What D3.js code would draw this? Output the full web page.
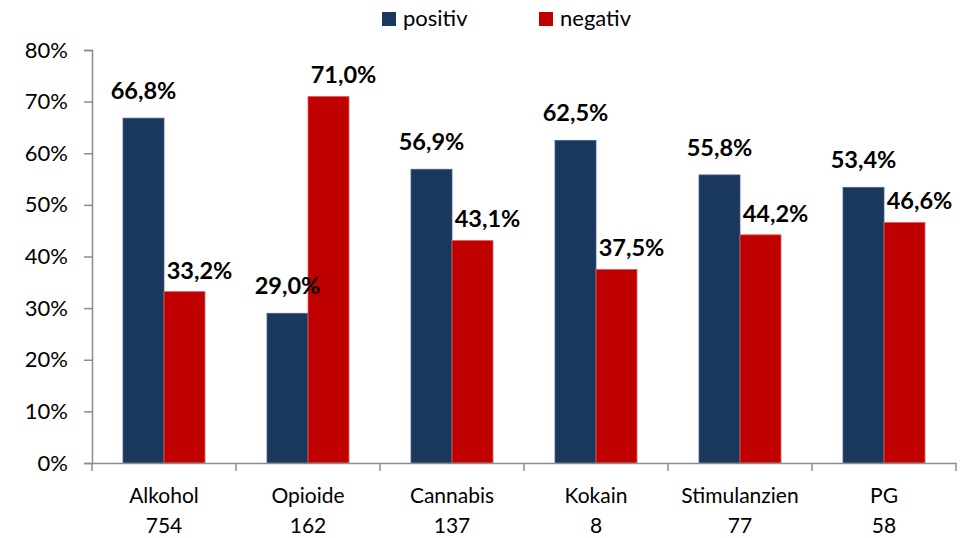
<!DOCTYPE html>
<html>
<head>
<meta charset="utf-8">
<script src="https://cdn.jsdelivr.net/npm/d3@7"></script>
<style>
  body { margin: 0; background: #fff; }
  svg text { font-family: Lato, "Open Sans", sans-serif; fill: #000; }
</style>
</head>
<body>
<div id="graph"></div>
<script>
'use strict';

const categories = ['Alkohol', 'Opioide', 'Cannabis', 'Kokain', 'Stimulanzien', 'PG'];
const counts = ['754', '162', '137', '8', '77', '58'];
const positiv = [66.8, 29.0, 56.9, 62.5, 55.8, 53.4];
const negativ = [33.2, 71.0, 43.1, 37.5, 44.2, 46.6];
const yTicks = [0, 10, 20, 30, 40, 50, 60, 70, 80];
const seriesNames = ['positiv', 'negativ'];

const colors = { positiv: '#1A375E', negativ: '#C00000' };
const strokes = { positiv: '#4A6185', negativ: '#E06060' };

let svgContainer = d3.select('#graph')
  .append('svg')
  .attr('width', 969)
  .attr('height', 538);

let xScale = d3.scaleBand()
  .domain(categories)
  .range([92, 956]);

let xInner = d3.scaleBand()
  .domain(seriesNames)
  .range([0, 82]);

let yScale = d3.scaleLinear()
  .domain([0, 80])
  .range([463, 50]);

// y axis
let yAxis = d3.axisLeft(yScale)
  .tickValues(yTicks)
  .tickSize(8)
  .tickPadding(16)
  .tickFormat(d => d + '%');
let gy = svgContainer.append('g')
  .attr('transform', 'translate(92, 0)')
  .call(yAxis);
gy.select('.domain').attr('stroke', '#8c8c8c').attr('stroke-width', 1.5);
gy.selectAll('.tick line').attr('stroke', '#8c8c8c').attr('stroke-width', 1.5);
gy.selectAll('.tick text').style('font-size', '22px').attr('fill', '#000');

// bars
let rows = categories.map((c, i) => ({ cat: c, positiv: positiv[i], negativ: negativ[i] }));
let groups = svgContainer.selectAll('.grp')
  .data(rows)
  .enter()
  .append('g')
  .attr('transform', d => `translate(${xScale(d.cat) + (xScale.bandwidth() - 82) / 2}, 0)`);

groups.selectAll('rect')
  .data(d => seriesNames.map(k => ({ key: k, value: d[k] })))
  .enter()
  .append('rect')
  .attr('x', d => xInner(d.key))
  .attr('width', xInner.bandwidth())
  .attr('y', d => yScale(d.value))
  .attr('height', d => yScale(0) - yScale(d.value))
  .attr('fill', d => colors[d.key])
  .attr('stroke', d => strokes[d.key])
  .attr('stroke-width', 0.8);

// value labels
const labelDx = { positiv: 0, negativ: 15 };
const labelDy = { positiv: -19, negativ: -13 };
groups.selectAll('.lbl')
  .data(d => seriesNames.map(k => ({ key: k, value: d[k] })))
  .enter()
  .append('text')
  .attr('x', d => xInner(d.key) + xInner.bandwidth() / 2 + labelDx[d.key])
  .attr('y', d => yScale(d.value) + labelDy[d.key])
  .attr('text-anchor', 'middle')
  .style('font-size', '23.5px')
  .style('font-weight', 'bold')
  .text(d => d.value.toFixed(1).replace('.', ',') + '%');

// x axis
let xAxis = d3.axisBottom(xScale).tickSize(0).tickFormat('');
let gx = svgContainer.append('g')
  .attr('transform', 'translate(0, 463)')
  .call(xAxis);
gx.select('.domain').attr('stroke', '#8c8c8c').attr('stroke-width', 1.5);

let boundaries = categories.map(c => xScale(c)).concat([xScale.range()[1]]);
gx.selectAll('.sep')
  .data(boundaries)
  .enter()
  .append('line')
  .attr('x1', d => d).attr('x2', d => d)
  .attr('y1', 0).attr('y2', 8)
  .attr('stroke', '#8c8c8c')
  .attr('stroke-width', 1.5);

let catLabels = svgContainer.selectAll('.cat')
  .data(categories)
  .enter()
  .append('text')
  .attr('text-anchor', 'middle')
  .attr('x', d => xScale(d) + xScale.bandwidth() / 2)
  .style('font-size', '21px');
catLabels.append('tspan')
  .attr('x', d => xScale(d) + xScale.bandwidth() / 2)
  .attr('y', 503)
  .text(d => d);
catLabels.append('tspan')
  .attr('x', d => xScale(d) + xScale.bandwidth() / 2)
  .attr('y', 533)
  .text((d, i) => counts[i]);

// legend
const legendX = [382, 539];
let legend = svgContainer.selectAll('.leg')
  .data(seriesNames)
  .enter()
  .append('g')
  .attr('transform', (d, i) => `translate(${legendX[i]}, 12)`);
legend.append('rect')
  .attr('width', 14)
  .attr('height', 14)
  .attr('fill', d => colors[d]);
legend.append('text')
  .attr('x', 21)
  .attr('y', 14)
  .style('font-size', '22px')
  .text(d => d);
</script>
</body>
</html>
